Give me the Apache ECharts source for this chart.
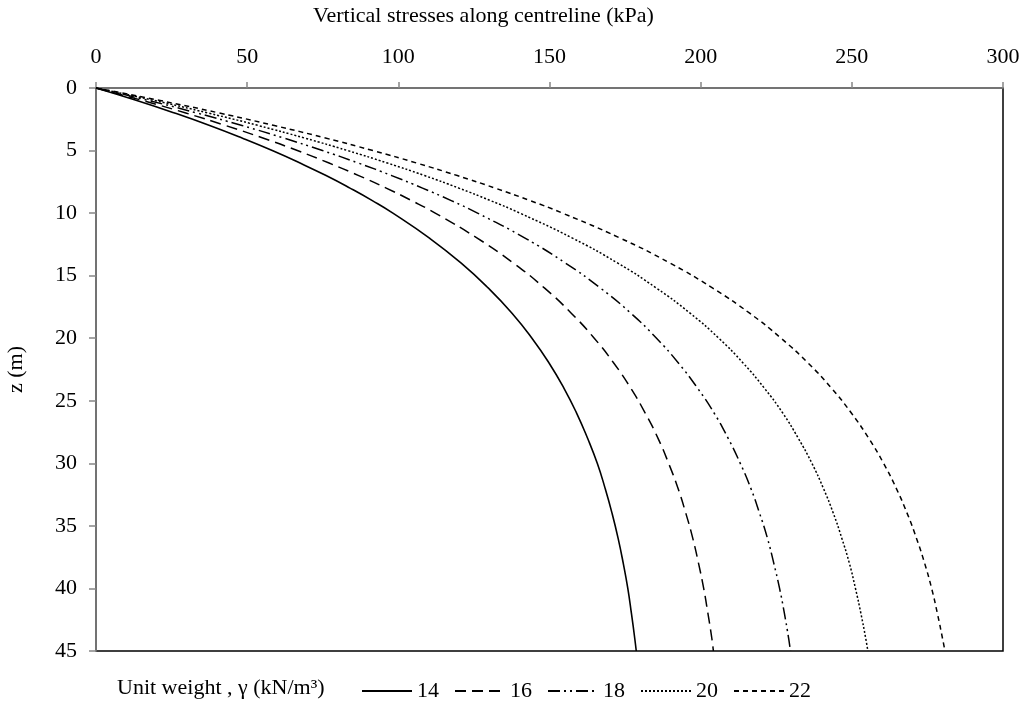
<!DOCTYPE html>
<html>
<head>
<meta charset="utf-8">
<script src="https://cdn.jsdelivr.net/npm/echarts@6/dist/echarts.min.js"></script>
<style>html,body{margin:0;padding:0;background:#fff}#c{width:1027px;height:704px}</style>
</head>
<body>
<div id="c"></div>
<script>
const depths = [0,1,2,3,4,5,6,7,8,9,10,12,14,16,18,20,22,24,26,28,30,32,34,36,38,40,42,44,45];
const unitWeights = ['14','16','18','20','22'];
const s14 = [0,13.5,26.0,37.6,48.3,58.3,67.5,76.1,84.0,91.4,98.2,110.3,120.8,129.8,137.6,144.2,149.9,154.8,159.0,162.6,165.8,168.4,170.7,172.7,174.4,175.9,177.1,178.2,178.7];
const s16 = [0,15.4,29.7,42.9,55.2,66.6,77.1,86.9,96.0,104.4,112.2,126.1,138.1,148.4,157.2,164.8,171.3,176.9,181.7,185.9,189.4,192.5,195.1,197.4,199.3,201.0,202.4,203.7,204.2];
const s18 = [0,17.4,33.4,48.3,62.1,74.9,86.8,97.8,108.0,117.5,126.2,141.9,155.3,166.9,176.9,185.4,192.7,199.0,204.5,209.1,213.1,216.6,219.5,222.1,224.2,226.1,227.7,229.1,229.7];
const s20 = [0,19.3,37.1,53.7,69.0,83.2,96.4,108.7,120.0,130.5,140.2,157.6,172.6,185.4,196.5,206.0,214.1,221.1,227.2,232.3,236.8,240.6,243.9,246.7,249.2,251.2,253.0,254.6,255.3];
const s22 = [0,21.2,40.8,59.0,75.9,91.6,106.1,119.5,132.0,143.6,154.3,173.4,189.9,204.0,216.2,226.6,235.6,243.3,249.9,255.6,260.5,264.7,268.3,271.4,274.1,276.4,278.3,280.0,280.8];
const xTicks = [0,50,100,150,200,250,300];
const yTicks = [0,5,10,15,20,25,30,35,40,45];
const xTitle = 'Vertical stresses along centreline (kPa)';
const yTitle = 'z (m)';
const legendTitle = 'Unit weight , γ (kN/m³)';

const allSeries = [s14,s16,s18,s20,s22];
const dashes = ['solid',[11,6],[12,4,2,4,2,4],[2,2],[5,4]];
const widths = [1.6,1.5,1.5,1.5,1.5];
const font = 'Liberation Serif';
const fs = 22;

const chart = echarts.init(document.getElementById('c'));
chart.setOption({
  animation:false,
  backgroundColor:'#fff',
  textStyle:{fontFamily:font,color:'#000'},
  grid:{left:96,right:24,top:88,bottom:53,containLabel:false,outerBoundsMode:'none',
        show:true,borderColor:'#000',borderWidth:1.5,backgroundColor:'transparent'},
  title:[
    {text:legendTitle,left:117,top:677,padding:0,textStyle:{fontFamily:font,fontSize:fs,fontWeight:'normal',color:'#000'}},
    {text:xTitle,left:313,top:5,padding:0,textStyle:{fontFamily:font,fontSize:fs,fontWeight:'normal',color:'#000'}}
  ],
  legend:{
    show:true,
    data:unitWeights, left:356, top:675, itemWidth:50, itemHeight:14, itemGap:15,
    itemStyle:{opacity:0},
    textStyle:{fontFamily:font,fontSize:fs,color:'#000'}
  },
  xAxis:[{
    type:'value', position:'top', min:0, max:300, interval:50,
    axisLine:{show:true,lineStyle:{color:'#868686',width:1.5}},
    axisTick:{show:true,length:6,lineStyle:{color:'#868686',width:1.5}},
    axisLabel:{fontFamily:font,fontSize:fs,color:'#000',margin:20,formatter:v=>xTicks.includes(v)?String(v):''},
    splitLine:{show:false}
  }],
  yAxis:[{
    type:'value', inverse:true, min:0, max:45, interval:5,
    name:yTitle, nameLocation:'middle', nameGap:69, nameRotate:90,
    nameTextStyle:{fontFamily:font,fontSize:fs,color:'#000'},
    axisLine:{show:true,lineStyle:{color:'#868686',width:1.5}},
    axisTick:{show:true,length:7,lineStyle:{color:'#868686',width:1.5}},
    axisLabel:{fontFamily:font,fontSize:fs,color:'#000',margin:19,formatter:v=>yTicks.includes(v)?String(v):''},
    splitLine:{show:false}
  }],
  series: unitWeights.map((name,i)=>({
    name, type:'line', symbol:'none', smooth:true,
    lineStyle:{color:'#000',width:widths[i],type:dashes[i]},
    itemStyle:{color:'#000'},
    data: depths.map((z,k)=>[allSeries[i][k], z])
  }))
});
</script>
</body>
</html>
